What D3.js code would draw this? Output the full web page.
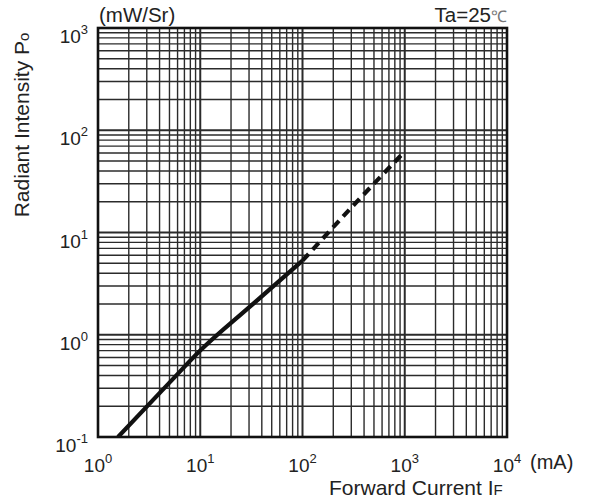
<!DOCTYPE html>
<html>
<head>
<meta charset="utf-8">
<script src="https://cdn.jsdelivr.net/npm/d3@7"></script>
<style>
  body { margin: 0; background: #fff; }
  text { font-family: "Liberation Sans", Arial, sans-serif; fill: #222; }
</style>
</head>
<body>
<div id="chart"></div>
<script>
// decade ticks on both axes
const xDecades = [1, 10, 100, 1000, 10000];
const xExponents = ["0", "1", "2", "3", "4"];
const yDecades = [0.1, 1, 10, 100, 1000];
const yExponents = ["-1", "0", "1", "2", "3"];

// measured curve (solid) and extrapolated part (dashed)
const solidCurrent = [1.57, 5, 10, 30, 100];
const solidIntensity = [0.1, 0.34, 0.7, 1.85, 5.3];
const dashedCurrent = [100, 300, 1000];
const dashedIntensity = [5.3, 17.5, 62];

const margin = { top: 28, right: 86, bottom: 67, left: 98 },
    width = 593 - margin.left - margin.right,
    height = 504 - margin.top - margin.bottom;

const svg = d3.select("#chart")
    .append("svg")
    .attr("width", 593)
    .attr("height", 504);

const g = svg.append("g")
    .attr("transform", `translate(${margin.left}, ${margin.top})`);

const x = d3.scaleLog().domain([1, 10000]).range([0, width]);
const y = d3.scaleLog().domain([0.1, 1000]).range([height, 0]);

// grid lines
g.append("g")
    .selectAll("line")
    .data(x.ticks())
    .enter().append("line")
    .attr("x1", d => x(d)).attr("x2", d => x(d))
    .attr("y1", 0).attr("y2", height)
    .attr("stroke", "#2b2b2b")
    .attr("stroke-width", d => xDecades.includes(d) ? 2 : 1.4);

g.append("g")
    .selectAll("line")
    .data(y.ticks())
    .enter().append("line")
    .attr("y1", d => y(d)).attr("y2", d => y(d))
    .attr("x1", 0).attr("x2", width)
    .attr("stroke", "#2b2b2b")
    .attr("stroke-width", d => yDecades.includes(d) ? 2 : 1.4);

// frame
g.append("rect")
    .attr("width", width)
    .attr("height", height)
    .attr("fill", "none")
    .attr("stroke", "#111")
    .attr("stroke-width", 2.6);

// curve
const line = d3.line()
    .x(d => x(d[0]))
    .y(d => y(d[1]))
    .curve(d3.curveMonotoneX);

g.append("clipPath").attr("id", "clip")
    .append("rect").attr("width", width).attr("height", height);

g.append("path")
    .datum(d3.zip(solidCurrent, solidIntensity))
    .attr("clip-path", "url(#clip)")
    .attr("d", line)
    .attr("fill", "none")
    .attr("stroke", "#111")
    .attr("stroke-width", 4.2);

g.append("path")
    .datum(d3.zip(dashedCurrent, dashedIntensity))
    .attr("d", line)
    .attr("fill", "none")
    .attr("stroke", "#111")
    .attr("stroke-width", 4.2)
    .attr("stroke-dasharray", "9,6");

// x tick labels
const xLab = g.append("g").selectAll("text")
    .data(xDecades)
    .enter().append("text")
    .attr("x", d => x(d))
    .attr("y", height + 35)
    .attr("text-anchor", "middle")
    .style("font-size", "19px");
xLab.append("tspan").text("10");
xLab.append("tspan")
    .attr("dy", -9)
    .style("font-size", "13px")
    .text((d, i) => xExponents[i]);

// y tick labels
const yLab = g.append("g").selectAll("text")
    .data(yDecades)
    .enter().append("text")
    .attr("x", -10)
    .attr("y", d => y(d) + 15)
    .attr("text-anchor", "end")
    .style("font-size", "19px");
yLab.append("tspan").text("10");
yLab.append("tspan")
    .attr("dy", -9)
    .style("font-size", "13px")
    .text((d, i) => yExponents[i]);

// units and titles
svg.append("text")
    .attr("x", 530).attr("y", 469)
    .style("font-size", "20px")
    .text("(mA)");

const xTitle = svg.append("text")
    .attr("x", 329).attr("y", 495)
    .style("font-size", "21px");
xTitle.append("tspan").text("Forward Current I");
xTitle.append("tspan").style("font-size", "15px").text("F");

svg.append("text")
    .attr("x", 99).attr("y", 22)
    .style("font-size", "20.5px")
    .text("(mW/Sr)");

const ta = svg.append("text")
    .attr("x", 507).attr("y", 22)
    .attr("text-anchor", "end")
    .style("font-size", "20.5px");
ta.append("tspan").text("Ta=25");
ta.append("tspan").style("font-size", "16px").style("fill", "#777").text("℃");

const yTitle = svg.append("text")
    .attr("transform", "translate(29, 125) rotate(-90)")
    .attr("text-anchor", "middle")
    .style("font-size", "21px");
yTitle.append("tspan").text("Radiant Intensity P");
yTitle.append("tspan").style("font-size", "15px").text("o");
</script>
</body>
</html>
